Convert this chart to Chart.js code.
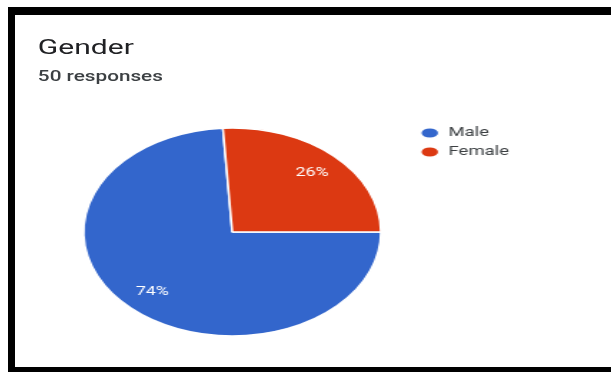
<!DOCTYPE html>
<html>
<head>
<meta charset="utf-8">
<title>Gender</title>
<script src="https://cdn.jsdelivr.net/npm/chart.js@4.4.1/dist/chart.umd.min.js"></script>
<style>
  html, body { margin: 0; padding: 0; background: #fff; }
  body { width: 611px; height: 372px; position: relative; overflow: hidden; }
  /* black frame around the card */
  .frame {
    position: absolute; left: 8px; top: 7px; width: 603px; height: 365px;
    box-sizing: border-box;
    border-left: 7px solid #000; border-top: 8px solid #000; border-bottom: 5px solid #000;
    background: #fff;
  }
  /* card is laid out narrow and widened as a whole */
  .card {
    position: absolute; left: 0; top: 0; width: 417px; height: 352px;
    transform: scaleX(1.4293); transform-origin: 0 0;
    font-family: Roboto, "Noto Sans", sans-serif;
  }
  .card h1 {
    position: absolute; left: 16px; top: 22px; margin: 0;
    font-size: 21px; line-height: 1; font-weight: 400; color: #202124;
  }
  .card .count {
    position: absolute; left: 16px; top: 55px; margin: 0;
    font-size: 14.5px; line-height: 1; font-weight: 500; color: #3c4043;
  }
  .card canvas { position: absolute; left: 0; top: 0; }
</style>
</head>
<body>
<div class="frame">
  <div class="card">
    <h1>Gender</h1>
    <div class="count" id="count"></div>
    <canvas id="genderChart" width="417" height="352"></canvas>
  </div>
</div>
<script>
const labels = ["Male", "Female"];
const counts = [37, 13];
const colors = ["#3366cc", "#dc3912"];

const total = counts.reduce((a, b) => a + b, 0);
document.getElementById("count").textContent = `${total} responses`;

Chart.defaults.font.family = "Roboto";

// legend sits to the right of the pie, so the right padding depends on the label width
const legendFontSize = 13;
const legendBoxW = 13;
const legendPad = 6;
const measure = document.createElement("canvas").getContext("2d");
measure.font = `${legendFontSize}px Roboto`;
const textW = Math.max(...labels.map((t) => measure.measureText(t).width));
const legendW = legendPad + legendBoxW + legendFontSize / 2 + textW + 10;
const areaLeft = 26.3;
const areaRight = 277.7;
const padRight = 417 - areaRight - legendW;

// percentage written inside each slice
const sliceLabels = {
  id: "sliceLabels",
  afterDatasetsDraw(chart) {
    const ctx = chart.ctx;
    const meta = chart.getDatasetMeta(0);
    ctx.save();
    ctx.fillStyle = "#fff";
    ctx.font = "12.5px Roboto";
    ctx.textAlign = "center";
    ctx.textBaseline = "middle";
    meta.data.forEach((arc, i) => {
      const p = arc.getProps(["x", "y", "startAngle", "endAngle", "outerRadius"], true);
      const mid = (p.startAngle + p.endAngle) / 2;
      const r = p.outerRadius * 0.785;
      const pct = Math.round((counts[i] / total) * 100) + "%";
      ctx.fillText(pct, p.x + Math.cos(mid) * r, p.y + Math.sin(mid) * r);
    });
    ctx.restore();
  },
};

new Chart(document.getElementById("genderChart"), {
  type: "pie",
  data: {
    labels: labels,
    datasets: [
      {
        data: counts,
        backgroundColor: colors,
        borderColor: "#fff",
        borderWidth: 1.5,
        hoverOffset: 0,
        radius: 104,
      },
    ],
  },
  options: {
    responsive: false,
    animation: false,
    events: [],
    rotation: 90,
    layout: {
      padding: { top: 105.5, bottom: 23.5, left: areaLeft, right: padRight },
    },
    plugins: {
      tooltip: { enabled: false },
      legend: {
        position: "right",
        align: "start",
        labels: {
          usePointStyle: true,
          pointStyle: "circle",
          boxHeight: 7.5,
          pointStyleWidth: legendBoxW,
          padding: legendPad,
          textAlign: "left",
          color: "#3c4043",
          font: { size: legendFontSize },
        },
      },
    },
  },
  plugins: [sliceLabels],
});
</script>
</body>
</html>
